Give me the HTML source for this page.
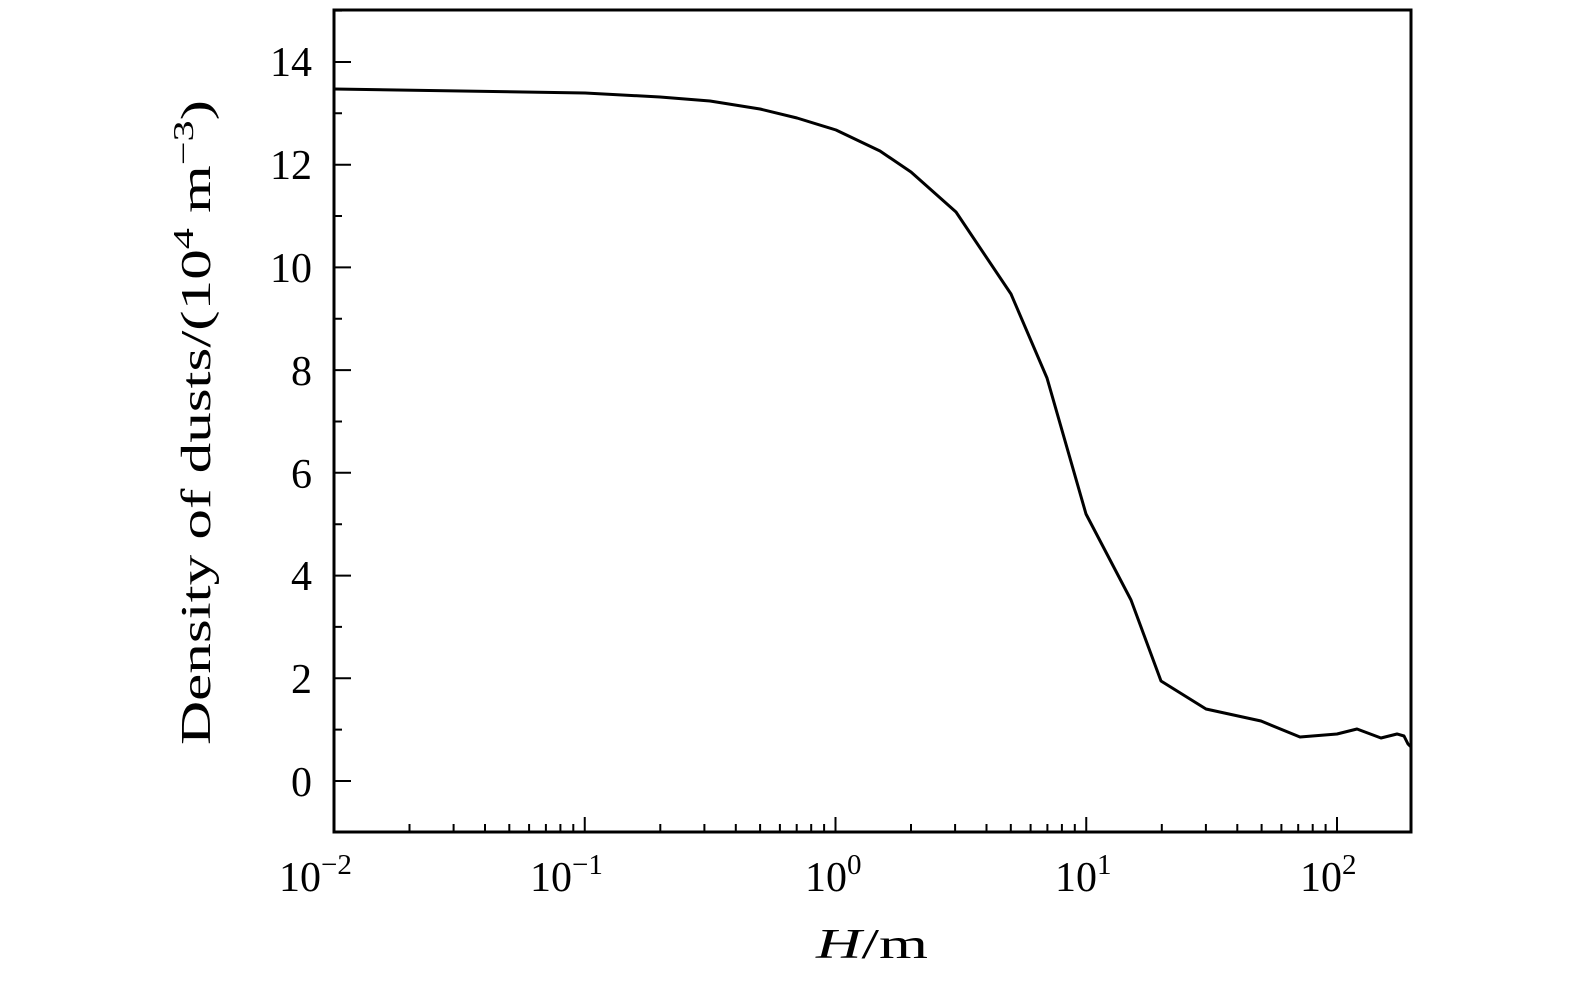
<!DOCTYPE html>
<html><head><style>body{margin:0;background:#fff}svg{display:block}</style></head><body>
<svg width="1575" height="984" viewBox="0 0 1575 984" xmlns="http://www.w3.org/2000/svg" font-family="Liberation Serif, serif">
<g stroke="#000" stroke-width="2">
<path d="M334 832v-15 M409.5 832v-8 M453.6 832v-8 M485 832v-8 M509.3 832v-8 M529.1 832v-8 M545.9 832v-8 M560.4 832v-8 M573.3 832v-8
M584.75 832v-15 M660.3 832v-8 M704.4 832v-8 M735.8 832v-8 M760.1 832v-8 M779.9 832v-8 M796.7 832v-8 M811.2 832v-8 M824.1 832v-8
M835.5 832v-15 M911 832v-8 M955.1 832v-8 M986.5 832v-8 M1010.8 832v-8 M1030.6 832v-8 M1047.4 832v-8 M1061.9 832v-8 M1074.8 832v-8
M1086.25 832v-15 M1161.8 832v-8 M1205.9 832v-8 M1237.3 832v-8 M1261.6 832v-8 M1281.4 832v-8 M1298.2 832v-8 M1312.7 832v-8 M1325.6 832v-8
M1337 832v-15"/>
<path d="M334 781h17 M334 729.6h8 M334 678.3h17 M334 626.9h8 M334 575.6h17 M334 524.2h8 M334 472.8h17 M334 421.5h8 M334 370.1h17 M334 318.8h8 M334 267.4h17 M334 216h8 M334 164.7h17 M334 113.3h8 M334 62h17 M334 10.6h8"/>
</g>
<polyline fill="none" stroke="#000" stroke-width="3" stroke-linejoin="round" points="334,89 585,93 660,97 710,101 760,109 797,118 836,130 880,151 911,172 956,212 1011,294 1047,378 1086,514 1131,600 1161,681 1206,709 1261,721 1300,737 1337,734 1357,729 1381,738 1397,734 1404,736 1408,744 1411,747"/>
<rect x="334" y="10" width="1077" height="822" fill="none" stroke="#000" stroke-width="3"/>
<g font-size="42" text-anchor="end" fill="#000">
<text x="312" y="796">0</text><text x="312" y="693">2</text><text x="312" y="590">4</text><text x="312" y="488">6</text><text x="312" y="385">8</text><text x="312" y="282">10</text><text x="312" y="179">12</text><text x="312" y="76">14</text>
</g>
<g font-size="42" fill="#000">
<text x="279" y="891">10<tspan font-size="29" dy="-17">−2</tspan></text>
<text x="530" y="891">10<tspan font-size="29" dy="-17">−1</tspan></text>
<text x="805" y="891">10<tspan font-size="29" dy="-17">0</tspan></text>
<text x="1055" y="891">10<tspan font-size="29" dy="-17">1</tspan></text>
<text x="1300" y="891">10<tspan font-size="29" dy="-17">2</tspan></text>
<text x="816" y="958" textLength="112" lengthAdjust="spacingAndGlyphs"><tspan font-style="italic">H</tspan>/m</text>
</g>
<text transform="translate(210,745) rotate(-90)" font-size="42" textLength="645" lengthAdjust="spacingAndGlyphs">Density of dusts/(10<tspan font-size="29" dy="-17">4</tspan><tspan dy="17"> m</tspan><tspan font-size="29" dy="-17">−3</tspan><tspan dy="17">)</tspan></text>
</svg>
</body></html>
